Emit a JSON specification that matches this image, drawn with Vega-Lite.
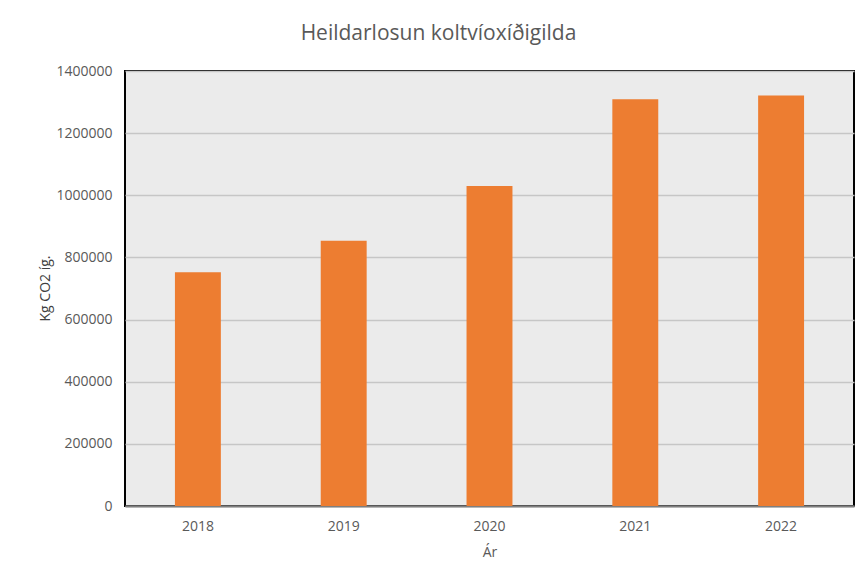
{
  "$schema": "https://vega.github.io/schema/vega-lite/v6.json",
  "width": 729,
  "height": 435,
  "autosize": "none",
  "padding": {"left": 125, "top": 71, "right": 7, "bottom": 71},
  "background": "white",
  "title": {
    "text": "Heildarlosun koltvíoxíðigilda",
    "anchor": "middle",
    "dx": -51,
    "offset": 20,
    "font": "Open Sans",
    "fontSize": 21,
    "fontWeight": "normal",
    "color": "#595959"
  },
  "config": {
    "view": {"fill": "#ebebeb", "stroke": "#000000", "strokeWidth": 2},
    "font": "Open Sans"
  },
  "data": {
    "values": [
      {"year": "2018", "value": 752000},
      {"year": "2019", "value": 854000},
      {"year": "2020", "value": 1030000},
      {"year": "2021", "value": 1309000},
      {"year": "2022", "value": 1321000}
    ]
  },
  "mark": {"type": "bar", "color": "#ed7d31"},
  "encoding": {
    "x": {
      "field": "year",
      "type": "nominal",
      "scale": {"paddingInner": 0.685, "paddingOuter": 0.3425},
      "axis": {
        "title": "Ár",
        "labelAngle": 0,
        "labelFont": "Open Sans",
        "labelFontSize": 14,
        "labelColor": "#595959",
        "labelPadding": 13,
        "ticks": false,
        "domainColor": "#7f7f7f",
        "domainWidth": 2,
        "titleFont": "Open Sans",
        "titleFontSize": 14,
        "titleFontWeight": "normal",
        "titleColor": "#595959",
        "titlePadding": 12
      }
    },
    "y": {
      "field": "value",
      "type": "quantitative",
      "scale": {"domain": [0, 1400000]},
      "axis": {
        "title": "Kg CO2 íg.",
        "values": [0, 200000, 400000, 600000, 800000, 1000000, 1200000, 1400000],
        "format": "d",
        "labelFont": "Open Sans",
        "labelFontSize": 14,
        "labelColor": "#595959",
        "labelPadding": 13,
        "ticks": false,
        "domain": false,
        "gridColor": "#c6c6c6",
        "gridWidth": 1.5,
        "titleFont": "Open Sans",
        "titleFontSize": 14,
        "titleFontWeight": "normal",
        "titleColor": "#404040",
        "titleX": -80,
        "titleY": 217,
        "titleAngle": -90,
        "titleAlign": "center",
        "titleBaseline": "middle"
      }
    }
  }
}
